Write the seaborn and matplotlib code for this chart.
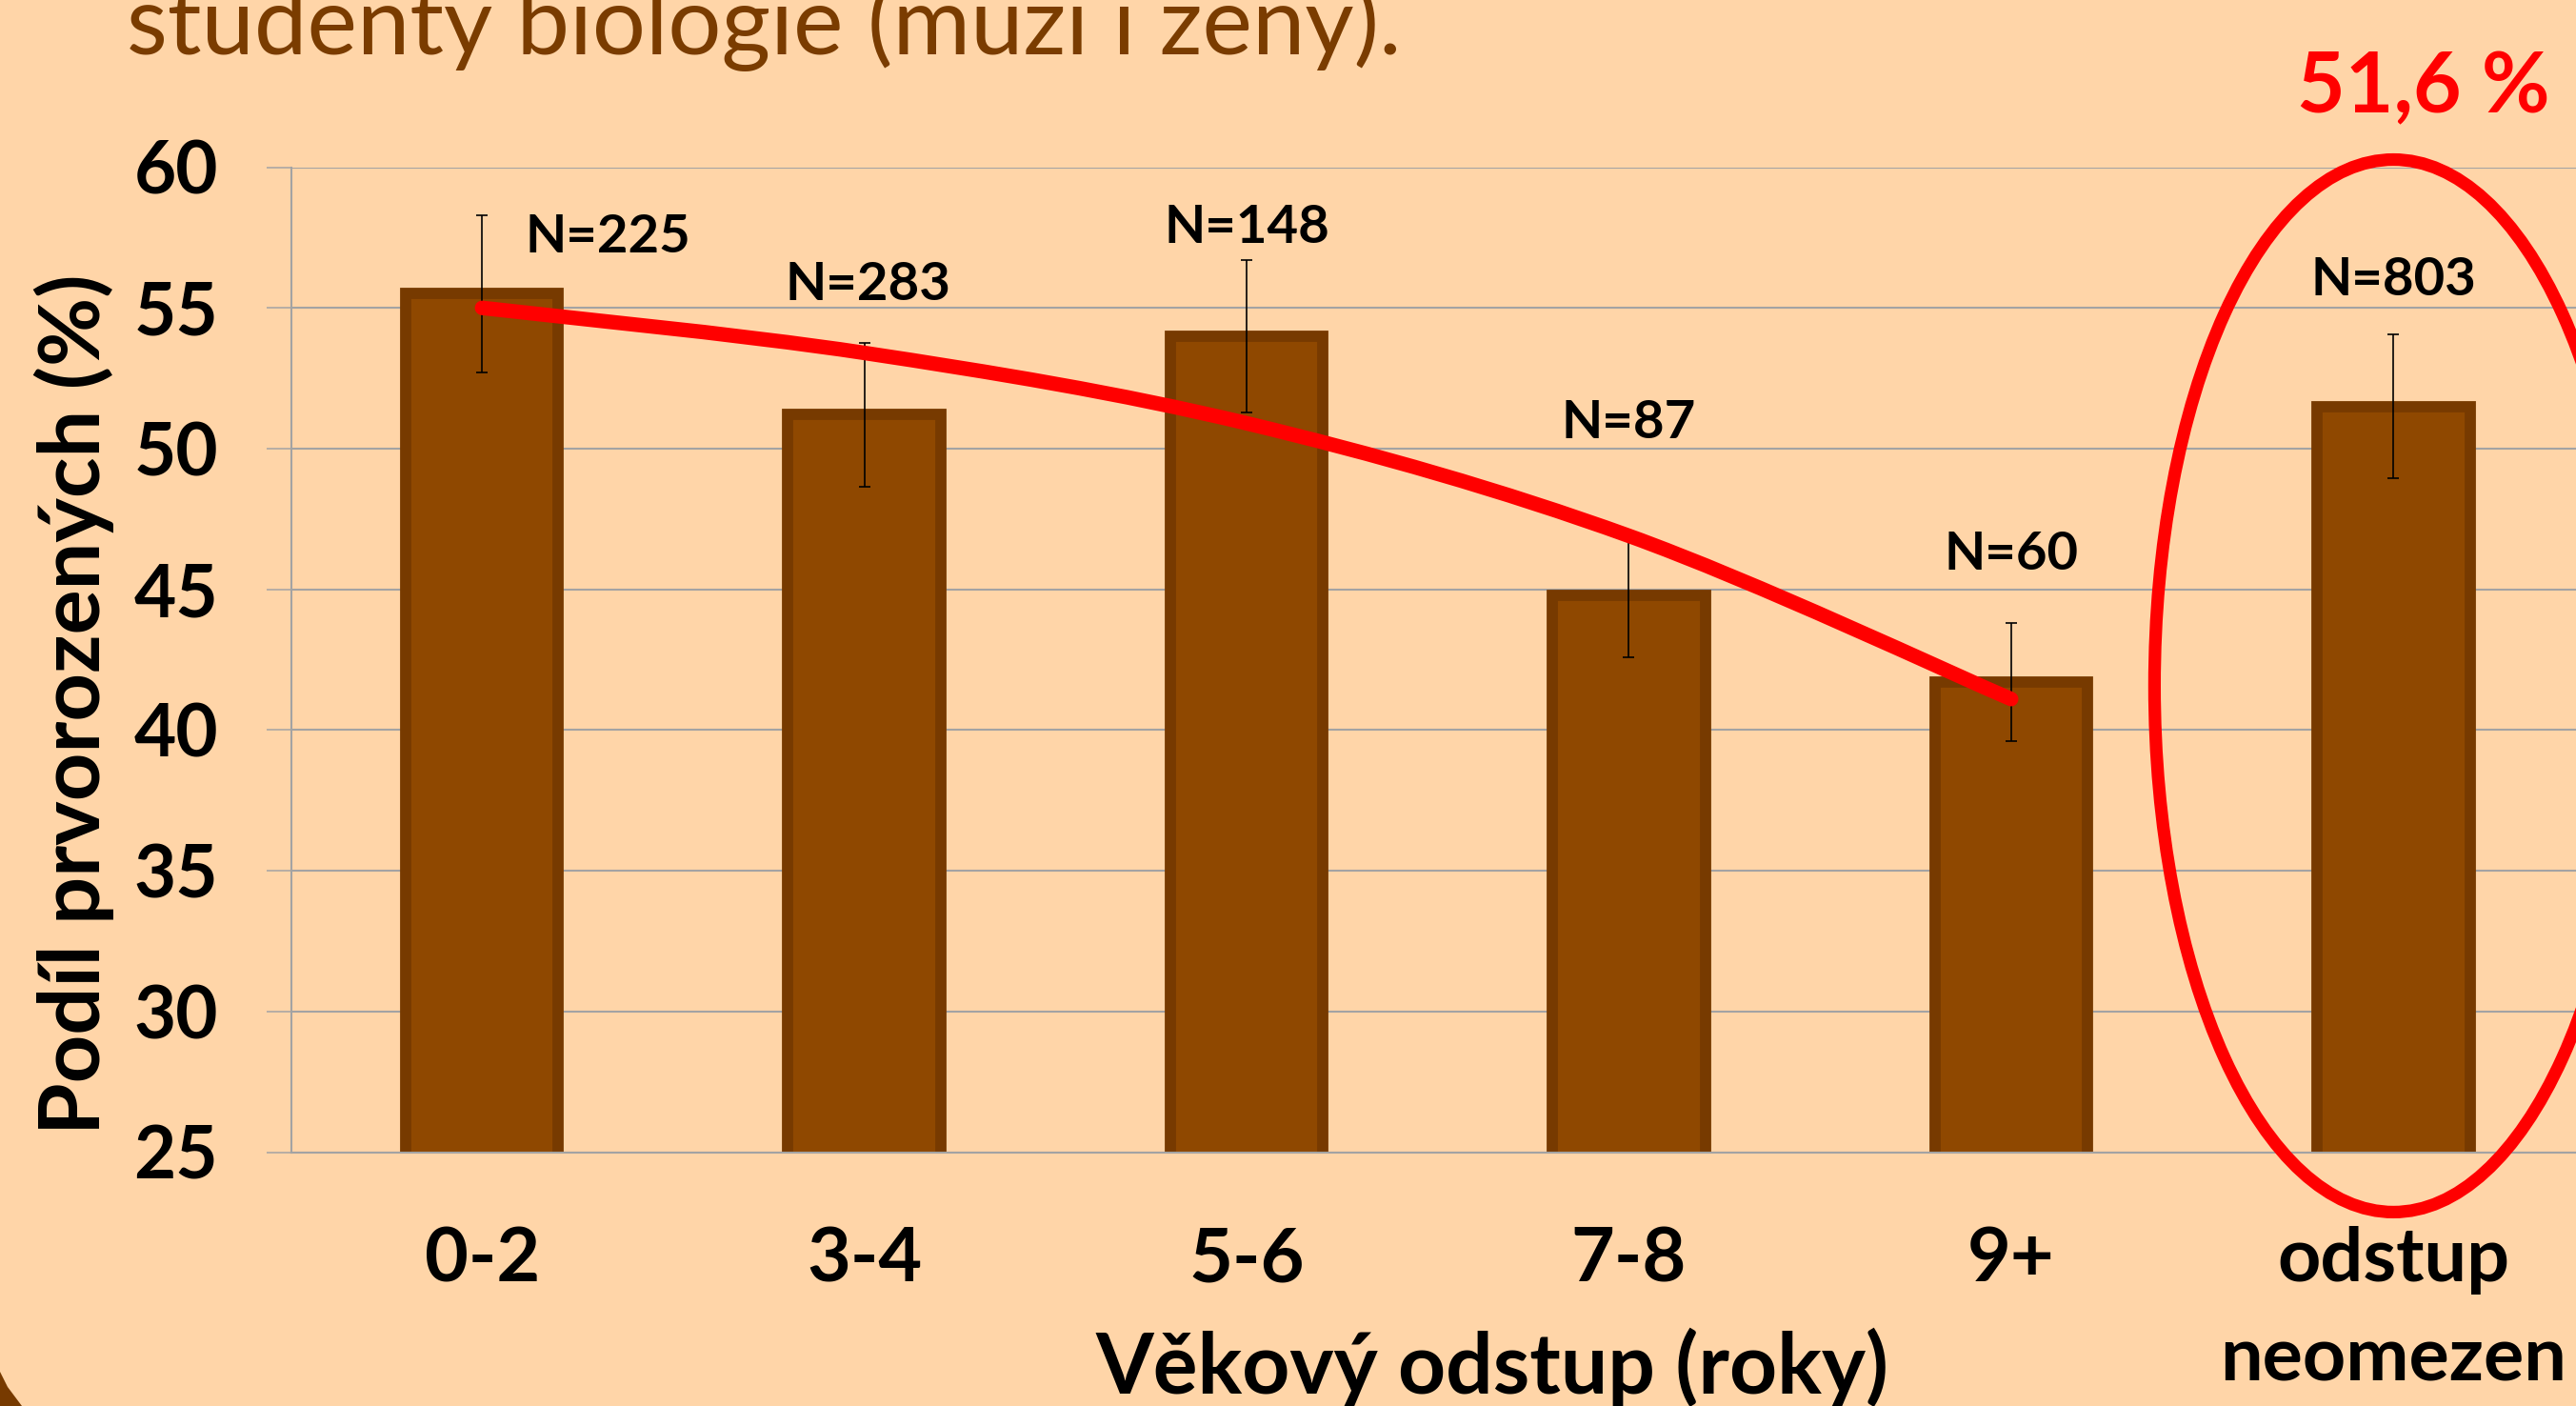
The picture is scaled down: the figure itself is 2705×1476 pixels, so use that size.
import matplotlib
matplotlib.use("Agg")
import matplotlib.pyplot as plt
from matplotlib.patches import Ellipse, Polygon, PathPatch
from matplotlib.path import Path
import seaborn as sns
import pandas as pd

# data
categories = ["0-2", "3-4", "5-6", "7-8", "9+", "odstup\nneomezen"]
share_firstborn = [55.5, 51.2, 54.0, 44.8, 41.7, 51.5]
error_half = [2.8, 2.55, 2.7, 2.2, 2.1, 2.55]
sample_sizes = [225, 283, 148, 87, 60, 803]
trend_values = [55.0, 53.4, 50.9, 46.9, 41.1]   # red smoothed trend over first five groups
yticks = [25, 30, 35, 40, 45, 50, 55, 60]

# placement of the N= labels (x in category units, y = baseline in %)
n_label_pos = [(0.33, 56.97), (1.01, 55.28), (2.0, 57.31), (3.0, 50.37), (4.0, 45.70), (5.0, 55.45)]

BG = "#FFD5A8"
BAR = "#8F4800"
BAR_EDGE = "#773A00"
GRID = "#A3A3A3"
TITLE_C = "#7A3C00"
FONT = "Lato"

sns.set_theme(style="white")
plt.rcParams["font.family"] = [FONT, "DejaVu Sans"]

W, H = 2705, 1476
fig = plt.figure(figsize=(W / 100, H / 100), dpi=100, facecolor=BG)
ax = fig.add_axes([305.5 / W, 1 - 1209.5 / H, (2714 - 305.5) / W, (1209.5 - 175.5) / H])
ax.set_facecolor(BG)

df = pd.DataFrame({"group": categories, "share": share_firstborn})
sns.barplot(data=df, x="group", y="share", order=categories, color=BAR, saturation=1,
            width=0.40, edgecolor=BAR_EDGE, linewidth=8.5, errorbar=None, ax=ax, zorder=2)

ax.errorbar(range(len(categories)), share_firstborn, yerr=error_half, fmt="none",
            ecolor="black", elinewidth=1.2, capsize=4.5, capthick=1.2, zorder=3)

# smoothed red trend (Catmull-Rom -> cubic Bezier, like a spreadsheet "smoothed line")
pts = list(zip(range(len(trend_values)), trend_values))
verts = [pts[0]]
codes = [Path.MOVETO]
for i in range(len(pts) - 1):
    p0 = pts[i - 1] if i > 0 else pts[i]
    p1, p2 = pts[i], pts[i + 1]
    p3 = pts[i + 2] if i + 2 < len(pts) else pts[i + 1]
    c1 = (p1[0] + (p2[0] - p0[0]) / 6, p1[1] + (p2[1] - p0[1]) / 6)
    c2 = (p2[0] - (p3[0] - p1[0]) / 6, p2[1] - (p3[1] - p1[1]) / 6)
    verts += [c1, c2, p2]
    codes += [Path.CURVE4] * 3
ax.add_patch(PathPatch(Path(verts, codes), facecolor="none", edgecolor="#FF0000",
                       lw=11, capstyle="round", joinstyle="round", zorder=4))

# ellipse around the last bar
ax.add_patch(Ellipse((5, 41.57), 1.25, 37.4, facecolor="none", edgecolor="#FF0000",
                     lw=9.5, clip_on=False, zorder=5))

for (x, y), n in zip(n_label_pos, sample_sizes):
    ax.text(x, y, f"N={n}", ha="center", va="baseline", fontsize=40.5,
            fontweight="bold", color="black", zorder=6)

ax.set_xlim(-0.5, 5.5)
ax.set_ylim(25, 60)
ax.set_yticks(yticks)
ax.yaxis.grid(True, color=GRID, lw=1.5)
ax.set_axisbelow(True)
for s in ["top", "right"]:
    ax.spines[s].set_visible(False)
ax.spines["left"].set_color(GRID)
ax.spines["left"].set_linewidth(1.5)
ax.spines["bottom"].set_color(GRID)
ax.spines["bottom"].set_linewidth(1.5)
ax.tick_params(axis="y", left=True, length=19, width=1.1, color=GRID, pad=36,
               labelsize=55)
ax.tick_params(axis="x", bottom=False, length=0, pad=56, labelsize=57)
for lbl in ax.get_yticklabels() + ax.get_xticklabels():
    lbl.set_fontweight("bold")
    lbl.set_color("black")
for lbl in ax.get_xticklabels():
    lbl.set_linespacing(1.55)
ax.set_xlabel("")
ax.set_ylabel("")

fig.text(1567 / W, 1 - 1463 / H, "Věkový odstup (roky)", ha="center", va="baseline",
         fontsize=63, fontweight="bold", color="black")
fig.text(78 / W, 1 - 739 / H, "Podíl prvorozených (%)", ha="center", va="center",
         rotation=90, fontsize=63.5, fontweight="bold", color="black")
fig.text(2545 / W, 1 - 118 / H, "51,6 %", ha="center", va="baseline", fontsize=63,
         fontweight="bold", color="#FF0000")
fig.text(133 / W, 1 - 57 / H, "studenty biologie (muži i ženy).", ha="left",
         va="baseline", fontsize=71.5, color=TITLE_C)

# slide decoration peeking in at bottom-left
fig.patches.append(Polygon([(0, 36), (8, 20), (23, 0), (0, 0)], closed=True,
                           transform=None, facecolor=BAR_EDGE, edgecolor="none"))

fig.savefig("out.png", dpi=100, facecolor=BG)
